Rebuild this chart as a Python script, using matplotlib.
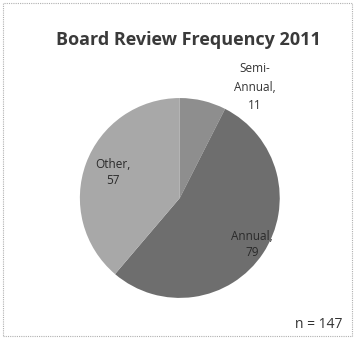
import matplotlib.pyplot as plt
from matplotlib.patches import Rectangle

# board review frequency, share of respondents
categories = ['Semi-\nAnnual', 'Annual', 'Other']
counts = [11, 79, 57]
colors = ['#8e8e8e', '#6e6e6e', '#a8a8a8']
n_total = sum(counts)

plt.rcParams['font.family'] = ['Open Sans', 'DejaVu Sans']

fig = plt.figure(figsize=(3.55, 3.39), dpi=100)
fig.patch.set_facecolor('white')

# dotted chart border
fig.patches.append(Rectangle((0.008, 0.008), 0.984, 0.984, transform=fig.transFigure,
                             fill=False, edgecolor='#b0b0b0', linewidth=0.8,
                             linestyle=(0, (1, 1))))

fig.text(0.532, 0.882, 'Board Review Frequency 2011', ha='center', va='center',
         fontsize=13, fontweight='bold', color='#3a3a3a')

ax = fig.add_axes([0.225, 0.121, 0.563, 0.59])
wedges, _ = ax.pie(counts, colors=colors, startangle=90, counterclock=False,
                   radius=1.0)
ax.set_xlim(-1, 1)
ax.set_ylim(-1, 1)
ax.set_aspect('equal')

# data labels: semi-annual sits outside, the rest inside
ax.text(0.75, 1.11, f'{categories[0]},\n{counts[0]}', ha='center', va='center',
        fontsize=8.5, color='#333333', linespacing=1.55, clip_on=False)
ax.text(0.72, -0.47, f'{categories[1]},\n{counts[1]}', ha='center', va='center',
        fontsize=8.5, color='#2a2a2a', linespacing=1.3)
ax.text(-0.67, 0.25, f'{categories[2]},\n{counts[2]}', ha='center', va='center',
        fontsize=8.5, color='#2a2a2a', linespacing=1.3)

fig.text(0.899, 0.044, f'n = {n_total}', ha='center', va='center',
         fontsize=10, color='#333333')

fig.savefig('out.png', dpi=100)
